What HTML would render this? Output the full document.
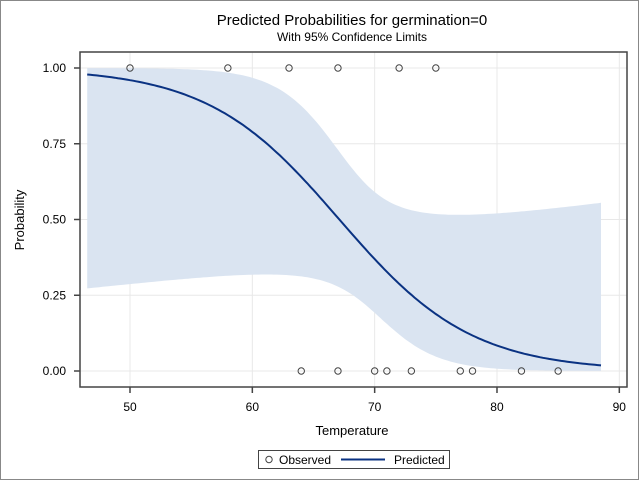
<!DOCTYPE html>
<html><head><meta charset="utf-8"><style>
body{margin:0;background:#fff}
svg{display:block;font-family:"Liberation Sans",Arial,sans-serif}
</style></head><body>
<svg id="s" width="640" height="481" viewBox="0 0 640 481">
<rect x="0.5" y="0.5" width="638" height="479" fill="#fff" stroke="#888"/>
<text x="352" y="25" text-anchor="middle" font-size="15">Predicted Probabilities for germination=0</text>
<text x="352" y="41" text-anchor="middle" font-size="12">With 95% Confidence Limits</text>
<g id="grid" stroke="#e8e8e8" stroke-width="1"></g>
<path id="band" fill="#dae4f1"/>
<path id="pred" fill="none" stroke="#0a3282" stroke-width="2"/>
<g id="pts" fill="none" stroke="#444" stroke-width="1"></g>
<rect x="80" y="52" width="547" height="335" fill="none" stroke="#444" stroke-width="1.5"/>
<g id="ticks" stroke="#444" stroke-width="1.5"></g>
<g id="lbl" font-size="12" fill="#000"></g>
<text x="352" y="435" text-anchor="middle" font-size="13">Temperature</text>
<text transform="translate(24,220) rotate(-90)" text-anchor="middle" font-size="13">Probability</text>
<rect x="258.5" y="450.5" width="191" height="18" fill="#fff" stroke="#444"/>
<circle cx="269" cy="459.5" r="3.2" fill="none" stroke="#444"/>
<text x="279" y="464" font-size="12">Observed</text>
<line x1="341" y1="459.5" x2="385" y2="459.5" stroke="#0a3282" stroke-width="2"/>
<text x="394" y="464" font-size="12">Predicted</text>
</svg>
<script>
const X=t=>130+(t-50)*12.233, Y=p=>371-p*303;
const ns="http://www.w3.org/2000/svg";
function el(g,tag,a,txt){const e=document.createElementNS(ns,tag);for(const k in a)e.setAttribute(k,a[k]);if(txt)e.textContent=txt;document.getElementById(g).appendChild(e);}
[50,60,70,80,90].forEach(t=>{el("grid","line",{x1:X(t),x2:X(t),y1:52,y2:387});el("ticks","line",{x1:X(t),x2:X(t),y1:387,y2:393});el("lbl","text",{x:X(t),y:411,"text-anchor":"middle"},String(t));});
[0,.25,.5,.75,1].forEach(p=>{el("grid","line",{x1:80,x2:627,y1:Y(p),y2:Y(p)});el("ticks","line",{x1:74,x2:80,y1:Y(p),y2:Y(p)});el("lbl","text",{x:66,y:Y(p)+4,"text-anchor":"end"},p.toFixed(2));});
const L=x=>12.45-0.1855*x, S=x=>1/(1+Math.exp(-x)), W=x=>Math.sqrt(0.77+0.0441*(x-69)*(x-69));
let pr="",up=[],lo=[];
for(let t=46.5;t<=88.51;t+=0.25){pr+=(pr?"L":"M")+X(t).toFixed(1)+","+Y(S(L(t))).toFixed(1);up.push(X(t).toFixed(1)+","+Y(S(L(t)+W(t))).toFixed(1));lo.push(X(t).toFixed(1)+","+Y(S(L(t)-W(t))).toFixed(1));}
document.getElementById("pred").setAttribute("d",pr);
document.getElementById("band").setAttribute("d","M"+up.join("L")+"L"+lo.reverse().join("L")+"Z");
[50,58,63,67,72,75].forEach(t=>el("pts","circle",{cx:X(t),cy:Y(1),r:3.2}));
[64,67,70,71,73,77,78,82,85].forEach(t=>el("pts","circle",{cx:X(t),cy:Y(0),r:3.2}));
</script>
</body></html>
